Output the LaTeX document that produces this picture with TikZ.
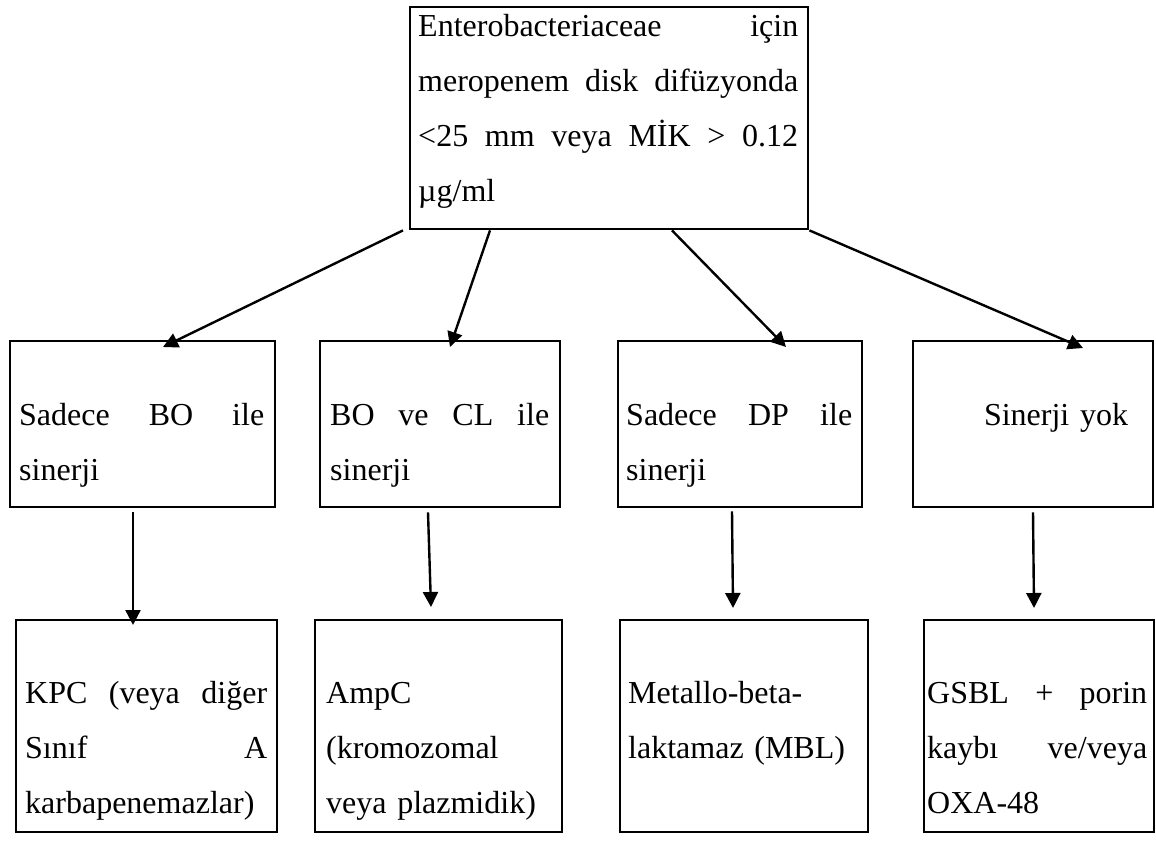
\documentclass[tikz,border=0pt]{standalone}
\usepackage{fontspec}
\setmainfont{Liberation Serif}
\usetikzlibrary{arrows.meta}

\begin{document}
\begin{tikzpicture}[x=1pt,y=1pt,
    kutu/.style={draw,line width=2.4pt,inner sep=0pt,anchor=north west},
    yazi/.style={inner sep=0pt,anchor=base west,align=left,
                 font=\fontsize{32}{55}\selectfont},
    ok/.style={line width=2.4pt,-{Triangle[length=15pt,width=15pt]}}
  ]
  \useasboundingbox (0,0) rectangle (1156,-843);

  \node[kutu,minimum width=398,minimum height=222] (kok) at (409,-6) {};
  \node[yazi,text width=380] (kokyazi) at (418,-37)
    {Enterobacteriaceae\hfill için\\
     meropenem\hfill disk\hfill difüzyonda\\
     <25\hfill mm\hfill veya\hfill MİK\hfill >\hfill 0.12\\
     µg/ml};

  \node[kutu,minimum width=265,minimum height=166] (s1) at (9,-340) {};
  \node[kutu,minimum width=240,minimum height=166] (s2) at (319,-340) {};
  \node[kutu,minimum width=244,minimum height=166] (s3) at (617,-340) {};
  \node[kutu,minimum width=240,minimum height=166] (s4) at (912,-340) {};
  \node[yazi,text width=245] (s1yazi) at (19,-425) {Sadece\hfill BO\hfill ile\\sinerji};
  \node[yazi,text width=219] (s2yazi) at (330,-425) {BO\hfill ve\hfill CL\hfill ile\\sinerji};
  \node[yazi,text width=226] (s3yazi) at (626,-425) {Sadece\hfill DP\hfill ile\\sinerji};
  \node[yazi,text width=200,align=center,anchor=base] (s4yazi) at (1056,-425) {Sinerji yok};

  \node[kutu,minimum width=261,minimum height=212] (m1) at (15,-619) {};
  \node[kutu,minimum width=247,minimum height=212] (m2) at (314,-619) {};
  \node[kutu,minimum width=248,minimum height=212] (m3) at (619,-619) {};
  \node[kutu,minimum width=230,minimum height=212] (m4) at (923,-619) {};
  \node[yazi,text width=242] (m1yazi) at (25,-703)
    {KPC\hfill (veya\hfill diğer\\Sınıf\hfill A\\karbapenemazlar)};
  \node[yazi,text width=230] (m2yazi) at (326,-703)
    {AmpC\\(kromozomal\\veya plazmidik)};
  \node[yazi,text width=232] (m3yazi) at (628,-703)
    {Metallo-beta-\\laktamaz (MBL)};
  \node[yazi,text width=220] (m4yazi) at (927,-703)
    {GSBL\hfill +\hfill porin\\kaybı\hfill ve/veya\\OXA-48};

  \draw[ok] ([xshift=-6]kok.south west) -- ([xshift=154,yshift=-7]s1.north west);
  \draw[ok] ([xshift=81]kok.south west) -- ([xshift=131,yshift=-7]s2.north west);
  \draw[ok] ([xshift=263]kok.south west) -- ([xshift=169,yshift=-7]s3.north west);
  \draw[ok] (kok.south east) -- ([xshift=171,yshift=-8]s4.north west);

  \draw[ok] ([xshift=124,yshift=-4]s1.south west) -- ([xshift=118,yshift=-6]m1.north west);
  \draw[ok] ([xshift=109,yshift=-4]s2.south west) -- ([xshift=117,yshift=12]m2.north west);
  \draw[ok] ([xshift=115,yshift=-3]s3.south west) -- ([xshift=114,yshift=11]m3.north west);
  \draw[ok] ([xshift=121,yshift=-4]s4.south west) -- ([xshift=111,yshift=11]m4.north west);
\end{tikzpicture}
\end{document}
